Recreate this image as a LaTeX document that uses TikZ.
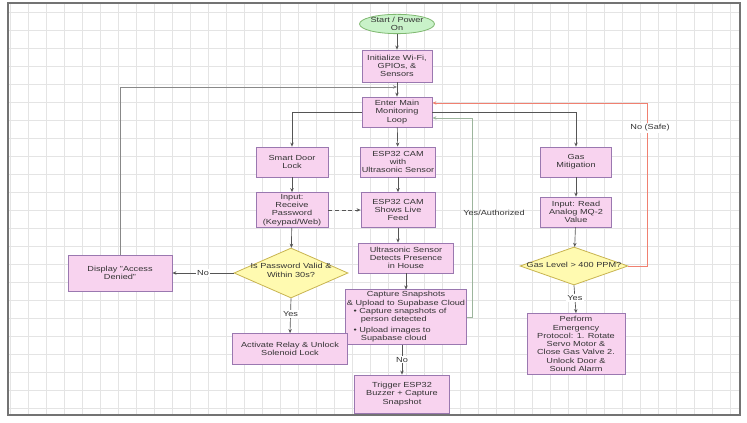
\documentclass[tikz,border=0pt]{standalone}
\usepackage{fontspec}
\setmainfont{Liberation Sans}[FakeStretch=1.25]
\usetikzlibrary{shapes.geometric,arrows.meta}
\definecolor{pinkf}{HTML}{F8D3EF}
\definecolor{pinkd}{HTML}{9A78B0}
\definecolor{yelf}{HTML}{FFFAB0}
\definecolor{yeld}{HTML}{C8B450}
\definecolor{grnf}{HTML}{C9F2C9}
\definecolor{grnd}{HTML}{7FB870}
\definecolor{edgec}{HTML}{555555}
\definecolor{redl}{HTML}{F08070}
\definecolor{grnl}{HTML}{9DB59D}
\definecolor{gridc}{HTML}{E4E4E4}
\begin{document}
\begin{tikzpicture}[x=0.75pt,y=-0.75pt,
 every node/.style={font=\fontsize{5.5}{6.2}\selectfont, text=black!80},
 pbox/.style={draw=pinkd, fill=pinkf, line width=0.6pt, align=center, inner sep=1pt},
 dmd/.style={diamond, draw=yeld, fill=yelf, line width=0.6pt, align=center, inner sep=0pt},
 conn/.style={draw=edgec, line width=0.5pt, -{Stealth[length=3pt,width=2.6pt]}},
 lbl/.style={fill=white, inner sep=1pt}
]
\useasboundingbox (0,0) rectangle (747,423);
\fill[white] (0,0) rectangle (747,423);
\foreach \gx in {10,28,...,740} \draw[gridc, line width=0.4pt] (\gx,3) -- (\gx,415);
\foreach \gy in {12,30,...,414} \draw[gridc, line width=0.4pt] (8,\gy) -- (740,\gy);
\draw[black!55, line width=0.9pt] (8,3) rectangle (740,415);

% nodes
\node[ellipse, draw=grnd, fill=grnf, line width=0.6pt, minimum width={70*0.75pt}, minimum height={19*0.75pt}, inner sep=0pt, align=center] (start) at (397,24) {Start / Power\\On};
\node[pbox, minimum width={70*0.75pt}, minimum height={32*0.75pt}] (init) at (397,66) {Initialize Wi-Fi,\\GPIOs, \&\\Sensors};
\node[pbox, minimum width={70*0.75pt}, minimum height={30*0.75pt}] (main) at (397,112) {Enter Main\\Monitoring\\Loop};
\node[pbox, minimum width={72*0.75pt}, minimum height={30*0.75pt}] (sdl) at (292,162) {Smart Door\\Lock};
\node[pbox, minimum width={74*0.75pt}, minimum height={30*0.75pt}] (cam1) at (398,162) {ESP32 CAM\\with\\Ultrasonic Sensor};
\node[pbox, minimum width={71*0.75pt}, minimum height={30*0.75pt}] (gasm) at (576,162) {Gas\\Mitigation};
\node[pbox, minimum width={72*0.75pt}, minimum height={35*0.75pt}] (pw) at (292,210) {Input:\\Receive\\Password\\(Keypad/Web)};
\node[pbox, minimum width={74*0.75pt}, minimum height={35*0.75pt}] (cam2) at (398,210) {ESP32 CAM\\Shows Live\\Feed};
\node[pbox, minimum width={71*0.75pt}, minimum height={30*0.75pt}] (mq) at (576,212) {Input: Read\\Analog MQ-2\\Value};
\node[pbox, minimum width={95*0.75pt}, minimum height={30*0.75pt}] (us) at (406,258) {Ultrasonic Sensor\\Detects Presence\\in House};
\node[pbox, minimum width={116*0.75pt}, minimum height={54*0.75pt}] (cap) at (406,317) {\begin{tabular}{@{}l@{}}
\multicolumn{1}{@{}c@{}}{Capture Snapshots}\\
\multicolumn{1}{@{}c@{}}{\& Upload to Supabase Cloud}\\
\hspace{5pt}• Capture snapshots of\\
\hspace{10.5pt}person detected\\[1.5pt]
\hspace{5pt}• Upload images to\\
\hspace{10.5pt}Supabase cloud
\end{tabular}};
\node[pbox, minimum width={95*0.75pt}, minimum height={38*0.75pt}] (trig) at (402,394) {Trigger ESP32\\Buzzer + Capture\\Snapshot};
\node[dmd, minimum width={114*0.75pt}, minimum height={50*0.75pt}] (pwd) at (291,273) {\makebox[0pt]{\smash{\begin{tabular}{@{}c@{}}Is Password Valid \&\\Within 30s?\end{tabular}}}};
\node[pbox, minimum width={104*0.75pt}, minimum height={36*0.75pt}] (deny) at (120,273) {Display "Access\\Denied"};
\node[pbox, minimum width={115*0.75pt}, minimum height={31*0.75pt}] (relay) at (290,349) {Activate Relay \& Unlock\\Solenoid Lock};
\node[dmd, minimum width={108*0.75pt}, minimum height={38*0.75pt}] (gasd) at (574,266) {\makebox[0pt]{\smash{\raisebox{-0.5ex}{Gas Level > 400 PPM?}}}};
\node[pbox, minimum width={98*0.75pt}, minimum height={61*0.75pt}] (emer) at (576,344) {Perform\\Emergency\\Protocol: 1. Rotate\\Servo Motor \&\\Close Gas Valve 2.\\Unlock Door \&\\Sound Alarm};

\coordinate (j) at (397,87);
\coordinate (rc) at (647,266);
\coordinate (gc) at (472,317);

% connectors
\draw[conn] (start) -- (init);
\draw[conn] (init) -- (main);
\draw[conn] (main.west) -| (sdl.north);
\draw[conn] (main) -- (cam1);
\draw[conn] (main.east) -| (gasm.north);
\draw[conn] (sdl) -- (pw);
\draw[conn, dashed, dash pattern=on 3pt off 2pt] (pw) -- (cam2);
\draw[conn] (pw) -- (pwd);
\draw[conn] (cam1) -- (cam2);
\draw[conn] (cam2.south) -- (cam2.south |- us.north);
\draw[conn] (us.south) -- (us.south |- cap.north);
\draw[conn] (trig.north |- cap.south) -- node[lbl]{No} (trig.north);
\draw[conn] (pwd.west) -- node[lbl]{No} (deny.east);
\draw[conn] (pwd.south) -- node[lbl, pos=0.45]{Yes} (relay.north);
\draw[conn, draw=edgec!70] (deny.north) |- (j);
\draw[conn, draw=grnl] (cap.east) -- (gc) |- (main.east |- 0,118);
\node[lbl, fill=none] at (494,213) {Yes/Authorized};
\draw[conn] (gasm) -- (mq);
\draw[conn] (mq) -- (gasd);
\draw[conn] (gasd.south) -- node[lbl, pos=0.45]{Yes} (emer.north);
\draw[conn, draw=redl, line width=0.7pt] (gasd.east) -- (rc) |- (main.east |- 0,103);
\node[lbl] at (650,128) {No (Safe)};
\end{tikzpicture}
\end{document}
